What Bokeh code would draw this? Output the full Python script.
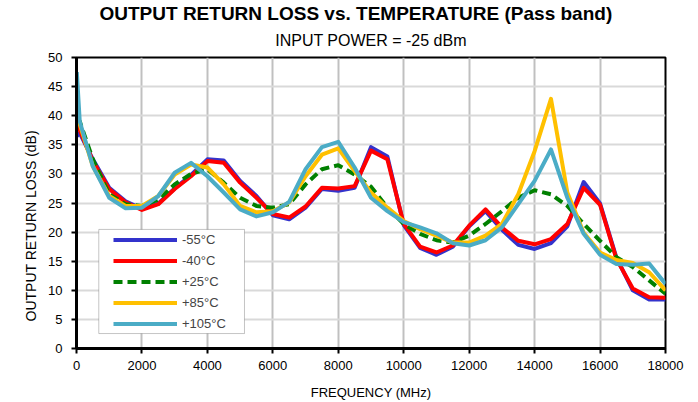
from bokeh.plotting import figure
from bokeh.models import Range1d, FixedTicker, Legend, LegendItem, BoxAnnotation, Title
from bokeh.embed import file_html
from bokeh.resources import INLINE

# Frequency points (MHz)
freq_mhz = [10, 100, 500, 1000, 1500, 2000, 2500, 3000, 3500, 4000, 4500, 5000,
            5500, 6000, 6500, 7000, 7500, 8000, 8500, 9000, 9500, 10000, 10500,
            11000, 11500, 12000, 12500, 13000, 13500, 14000, 14500, 15000, 15500,
            16000, 16500, 17000, 17500, 18000]

# Output return loss (dB) per temperature
rl_m55 = [36.5, 37.0, 32.5, 27.6, 25.3, 24.0, 24.9, 27.5, 29.8, 32.5, 32.3, 28.8,
          26.2, 22.9, 22.2, 24.2, 27.4, 27.1, 27.6, 34.6, 33.0, 21.2, 17.3,
          16.1, 17.5, 21.0, 23.6, 20.4, 17.8, 17.1, 18.1, 21.0, 28.6,
          24.9, 15.6, 10.0, 8.4, 8.4]
rl_m40 = [39.5, 37.5, 32.2, 27.4, 25.1, 23.8, 24.8, 27.4, 29.6, 32.2, 31.9, 28.5,
          25.9, 23.1, 22.5, 24.4, 27.6, 27.5, 27.9, 34.0, 32.5, 21.4, 17.5,
          16.5, 17.7, 21.1, 23.9, 20.8, 18.5, 17.9, 18.8, 21.4, 27.6,
          24.7, 15.4, 10.3, 8.8, 8.7]
rl_p25 = [39.5, 39.0, 32.5, 26.5, 24.8, 24.5, 25.6, 28.2, 30.0, 30.8, 28.5, 25.9,
          24.5, 24.2, 24.8, 28.2, 30.8, 31.5, 29.9, 27.8, 24.2, 21.4, 19.7,
          18.6, 18.2, 19.4, 21.4, 23.6, 25.9, 27.2, 26.5, 24.5, 21.4,
          18.5, 15.7, 14.0, 11.7, 9.4]
rl_p85 = [40.0, 38.5, 31.3, 26.2, 24.5, 24.5, 26.2, 29.9, 31.6, 31.1, 28.2, 24.5,
          23.4, 23.6, 25.1, 29.6, 33.3, 34.4, 30.5, 26.8, 24.2, 21.9, 20.5,
          19.4, 18.2, 18.2, 19.4, 21.4, 26.5, 33.9, 42.9, 26.8, 19.9,
          16.5, 15.2, 14.7, 13.1, 10.0]
rl_p105 = [47.5, 39.0, 31.3, 25.9, 24.1, 24.2, 26.2, 30.2, 31.9, 29.6, 26.8, 23.9,
           22.7, 23.4, 25.2, 30.8, 34.6, 35.5, 31.1, 25.9, 23.6, 21.7, 20.8,
           19.8, 18.1, 17.7, 18.6, 20.8, 24.8, 28.8, 34.2, 25.9, 19.7,
           16.1, 14.5, 14.4, 14.6, 11.1]

series_labels = ["-55°C", "-40°C", "+25°C", "+85°C", "+105°C"]
series_values = [rl_m55, rl_m40, rl_p25, rl_p85, rl_p105]
series_colors = ["#3333CC", "#FF0000", "#008000", "#FFC000", "#4BACC6"]
series_dashes = ["solid", "solid", "9 5", "solid", "solid"]

x_ticks = [0, 2000, 4000, 6000, 8000, 10000, 12000, 14000, 16000, 18000]
y_ticks = [0, 5, 10, 15, 20, 25, 30, 35, 40, 45, 50]

FONT = "Liberation Sans"

p = figure(width=698, height=402, x_range=Range1d(0, 18000), y_range=Range1d(0, 50),
           output_backend="svg", toolbar_location=None,
           min_border_left=76, min_border_right=33, min_border_top=57, min_border_bottom=53)
p.background_fill_color = "white"
p.border_fill_color = "white"
p.outline_line_color = "black"
p.outline_line_width = 2

# grid
p.xgrid.ticker = FixedTicker(ticks=x_ticks)
p.ygrid.ticker = FixedTicker(ticks=y_ticks)
p.xgrid.grid_line_color = "#c0c0c0"
p.xgrid.grid_line_width = 2
p.ygrid.grid_line_color = "#d9d9d9"
p.ygrid.grid_line_width = 2

# axes
for ax, ticks in ((p.xaxis, x_ticks), (p.yaxis, y_ticks)):
    ax.ticker = FixedTicker(ticks=ticks)
    ax.axis_line_color = "black"
    ax.axis_line_width = 3
    ax.major_tick_line_color = "black"
    ax.major_tick_line_width = 2
    ax.major_tick_in = 0
    ax.major_tick_out = 5
    ax.minor_tick_line_color = None
    ax.major_label_text_font = FONT
    ax.major_label_text_font_size = "13px"
    ax.major_label_text_color = "black"
    ax.major_label_standoff = 7
p.yaxis.major_label_standoff = 9

p.xaxis.axis_label = "FREQUENCY (MHz)"
p.xaxis.axis_label_text_font = FONT
p.xaxis.axis_label_text_font_size = "13px"
p.xaxis.axis_label_text_font_style = "normal"
p.xaxis.axis_label_text_color = "black"
p.xaxis.axis_label_standoff = 12

# curves
renderers = []
for vals, col, dash in zip(series_values, series_colors, series_dashes):
    r = p.line(freq_mhz, vals, line_color=col, line_width=4, line_dash=dash,
               line_join="round")
    renderers.append(r)

# legend frame
legend_box = BoxAnnotation(left=681, right=5134, bottom=2.57, top=20.46,
                           fill_color="white", fill_alpha=1.0,
                           line_color="#404040", line_width=1)
p.add_layout(legend_box)

legend = Legend(items=[LegendItem(label=lab, renderers=[r])
                       for lab, r in zip(series_labels, renderers)],
                location=(37, 14), padding=0, margin=0, spacing=0,
                glyph_width=64, glyph_height=21, label_height=21, label_standoff=5,
                label_text_font=FONT, label_text_font_size="13px",
                border_line_alpha=0, background_fill_alpha=0)
p.add_layout(legend)

# titles: subtitle first (nearest the frame), then the main title above it
p.add_layout(Title(text="INPUT POWER = -25 dBm", align="center",
                   text_font=FONT, text_font_size="16px", text_font_style="normal",
                   text_color="black", standoff=18), "above")
p.add_layout(Title(text="OUTPUT RETURN LOSS vs. TEMPERATURE (Pass band)", align="left",
                   offset=23, text_font=FONT, text_font_size="19px",
                   text_font_style="bold", text_color="black", standoff=-6), "above")

# vertical axis title
p.add_layout(Title(text="OUTPUT RETURN LOSS (dB)", align="left", offset=27,
                   text_font=FONT, text_font_size="14px", text_font_style="normal",
                   text_color="black", standoff=14), "left")

open("out.html", "w").write(file_html(p, INLINE))
